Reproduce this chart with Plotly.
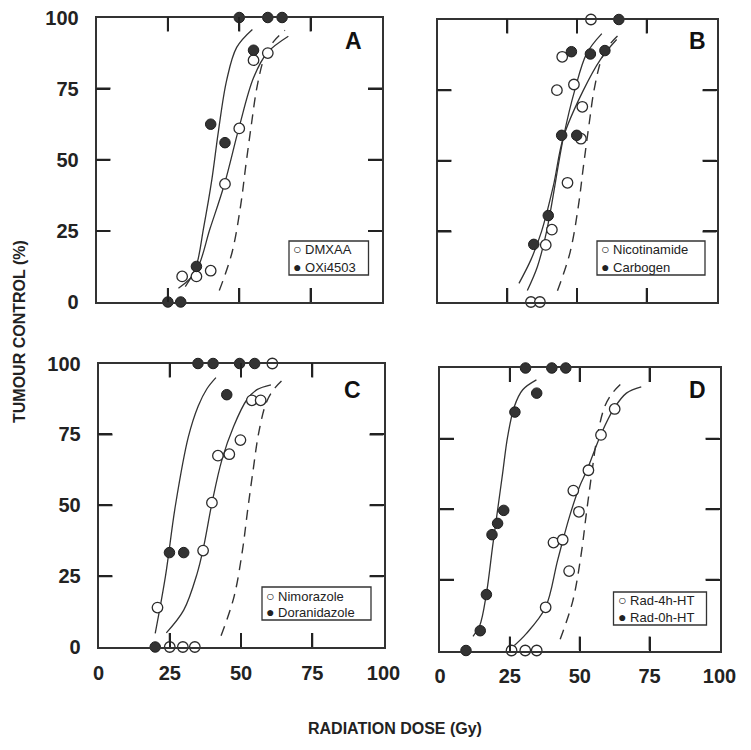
import plotly.graph_objects as go

# ---------------- data ----------------
# Panel A
dmxaa_dose = [30, 35, 40, 45, 50, 55, 60]
dmxaa_tc = [9, 9, 11, 41.5, 61, 85, 87.5]
oxi_dose = [25, 29.5, 35, 40, 45, 50, 55, 60, 65]
oxi_tc = [0, 0, 12.5, 62.5, 56, 100, 88.5, 100, 100]
dmxaa_fit_dose = [28.7, 34.8, 39.8, 44.8, 49.9, 55, 59.8, 67.2]
dmxaa_fit_tc = [4.8, 10.7, 25.9, 41.4, 61.2, 78.8, 87.6, 93.4]
oxi_fit_dose = [31.1, 34.8, 37.5, 40.4, 42.7, 45.6, 49.1, 54.6]
oxi_fit_tc = [5.4, 12.2, 26, 43, 60, 78, 89.5, 95.8]

# Panel B
nico_dose = [33.5, 36.7, 38.8, 41, 42.8, 44.7, 46.6, 48.9, 51.4, 51.9, 55]
nico_tc = [0, 0, 20.2, 25.6, 75, 86.8, 42.2, 77, 57.8, 69.1, 100]
carb_dose = [34.5, 39.7, 44.5, 48, 49.9, 54.8, 60, 65]
carb_tc = [20.4, 30.6, 59, 88.6, 59, 87.8, 89, 100]
nico_fit_dose = [29.2, 33.5, 37.3, 41.5, 45.2, 52.3, 58.5, 64.2]
nico_fit_tc = [6.6, 15, 25, 41, 58.6, 75, 86, 92.9]
carb_fit_dose = [32.2, 35.8, 39.1, 45.2, 49.2, 53.5, 58.9]
carb_fit_tc = [4.1, 12.5, 25, 58.6, 75, 88, 95]

# Panel C
nimo_dose = [20.7, 25, 29.6, 33.8, 36.7, 39.8, 41.9, 45.9, 49.8, 53.8, 56.9, 61]
nimo_tc = [13.9, 0, 0, 0, 34, 50.9, 67.5, 68, 73, 87, 87, 100]
dora_dose = [19.9, 24.9, 29.9, 34.9, 40.2, 45, 49.5, 54.8]
dora_tc = [0, 33.3, 33.3, 100, 100, 89, 100, 100]
nimo_fit_dose = [23.8, 29.9, 34.6, 36.9, 39.8, 43.3, 47.4, 52.1, 55.6, 60.5]
nimo_fit_tc = [5, 13, 25.9, 35.4, 50.7, 66, 77.8, 87.3, 90.8, 92.5]
dora_fit_dose = [19.9, 23.5, 27, 31.5, 35, 38, 41.2]
dora_fit_tc = [4.8, 25, 50, 74, 85, 91, 95]

# Panel D
rad4_dose = [25.6, 30.5, 34.6, 37.8, 40.6, 43.9, 46.2, 47.7, 49.7, 53.1, 57.6, 62.5]
rad4_tc = [0, 0, 0, 15.3, 38.2, 39.2, 28.1, 56.6, 49.1, 63.8, 76.3, 85.5]
rad0_dose = [9.3, 14.4, 16.6, 18.6, 20.6, 22.8, 26.8, 30.6, 34.6, 40, 45]
rad0_tc = [0, 7, 19.8, 41, 45, 49.6, 84.4, 100, 91.1, 100, 100]
rad4_fit_dose = [26.6, 30.8, 37.7, 42.1, 46.3, 49.9, 52.6, 57.5, 62.2, 66.7, 72]
rad4_fit_tc = [1.8, 5.9, 15.1, 32, 47.3, 58, 63.9, 76.3, 85.6, 91.1, 93.3]
rad0_fit_dose = [11.8, 14.2, 16.6, 18.8, 20.6, 22.4, 24.2, 26.6, 29.6, 34.5]
rad0_fit_tc = [5, 8.8, 20.1, 36.7, 49.7, 62.7, 75.7, 86.4, 92.3, 95.8]

# Control (radiation alone) curve, dashed, same in every panel
ctrl_fit_dose = [43, 47.5, 50.5, 52.3, 54.2, 56.3, 59, 62, 66]
ctrl_fit_tc = [4, 17.5, 34, 48, 62, 76, 86.5, 91.5, 95.5]

tick_vals = [0, 25, 50, 75, 100]
tick_text = ["0", "25", "50", "75", "100"]

panels = [
    dict(letter="A", open_name="DMXAA", filled_name="OXi4503",
         od=dmxaa_dose, ot=dmxaa_tc, fd=oxi_dose, ft=oxi_tc,
         ofd=dmxaa_fit_dose, oft=dmxaa_fit_tc, ffd=oxi_fit_dose, fft=oxi_fit_tc),
    dict(letter="B", open_name="Nicotinamide", filled_name="Carbogen",
         od=nico_dose, ot=nico_tc, fd=carb_dose, ft=carb_tc,
         ofd=nico_fit_dose, oft=nico_fit_tc, ffd=carb_fit_dose, fft=carb_fit_tc),
    dict(letter="C", open_name="Nimorazole", filled_name="Doranidazole",
         od=nimo_dose, ot=nimo_tc, fd=dora_dose, ft=dora_tc,
         ofd=nimo_fit_dose, oft=nimo_fit_tc, ffd=dora_fit_dose, fft=dora_fit_tc),
    dict(letter="D", open_name="Rad-4h-HT", filled_name="Rad-0h-HT",
         od=rad4_dose, ot=rad4_tc, fd=rad0_dose, ft=rad0_tc,
         ofd=rad4_fit_dose, oft=rad4_fit_tc, ffd=rad0_fit_dose, fft=rad0_fit_tc),
]

# ---------------- layout geometry (screen pixels) ----------------
# the page body has an 8px margin, so the figure is 16px smaller than the window
OFF = 8
W, H = 751 - 2 * OFF, 750 - 2 * OFF
def px(x):
    return (x - OFF) / W
def py(y):
    return 1 - (y - OFF) / H

# panel boxes: left, right, top, bottom (screen pixels)
boxes = [
    (96.5, 382, 17.5, 302),
    (437.5, 716.5, 19.5, 302),
    (98.5, 383.5, 363.5, 647),
    (440, 719.5, 368, 650.5),
]
# legend boxes: left, right, top, bottom, line1 y, line2 y
leg_boxes = [
    (289, 368.5, 241, 275, 249.5, 266.5),
    (597, 705, 241, 275, 249.5, 266.5),
    (262, 371, 587, 620, 595.5, 611.5),
    (613.5, 706.5, 592, 625, 600, 616.5),
]
letter_pos = [(353, 41), (697, 41), (352, 389.5), (697, 389.5)]
TICK_LEN = 14

INK = "#2b2b2b"
LINE = "#333333"
FONT = "Liberation Sans, Arial, sans-serif"

fig = go.Figure()

for i, p in enumerate(panels):
    ax = "" if i == 0 else str(i + 1)
    xr, yr = "x" + ax, "y" + ax
    l, r, t, b = boxes[i]
    # inside tick marks on all four sides (tick length converted to axis units)
    lx_u = TICK_LEN / (r - l) * 100
    ly_u = TICK_LEN / (b - t) * 100
    tx, ty = [], []
    for v in tick_vals[1:-1]:
        tx += [v, v, None, v, v, None, 0, lx_u, None, 100 - lx_u, 100, None]
        ty += [0, ly_u, None, 100 - ly_u, 100, None, v, v, None, v, v, None]
    fig.add_trace(go.Scatter(x=tx, y=ty, mode="lines", line=dict(color="#222222", width=2),
                             xaxis=xr, yaxis=yr, showlegend=False, hoverinfo="skip"))
    fig.add_trace(go.Scatter(x=ctrl_fit_dose, y=ctrl_fit_tc, mode="lines",
                             line=dict(color=LINE, width=1.4, dash="10px,7px", shape="spline"),
                             xaxis=xr, yaxis=yr, showlegend=False, hoverinfo="skip"))
    fig.add_trace(go.Scatter(x=p["ofd"], y=p["oft"], mode="lines",
                             line=dict(color=LINE, width=1.3, shape="spline", smoothing=1.0),
                             xaxis=xr, yaxis=yr, showlegend=False, hoverinfo="skip"))
    fig.add_trace(go.Scatter(x=p["ffd"], y=p["fft"], mode="lines",
                             line=dict(color=LINE, width=1.3, shape="spline", smoothing=1.0),
                             xaxis=xr, yaxis=yr, showlegend=False, hoverinfo="skip"))
    fig.add_trace(go.Scatter(x=p["od"], y=p["ot"], mode="markers", name=p["open_name"],
                             marker=dict(symbol="circle", size=10.5, color="white",
                                         line=dict(color=INK, width=1.3)),
                             cliponaxis=False, xaxis=xr, yaxis=yr, showlegend=False))
    fig.add_trace(go.Scatter(x=p["fd"], y=p["ft"], mode="markers", name=p["filled_name"],
                             marker=dict(symbol="circle", size=10.5, color="#333333",
                                         line=dict(color="#1e1e1e", width=1)),
                             cliponaxis=False, xaxis=xr, yaxis=yr, showlegend=False))

axis_common = dict(range=[0, 100], tickmode="array", tickvals=tick_vals, ticktext=tick_text,
                   ticks="inside", ticklen=TICK_LEN, tickwidth=1.8, tickcolor="#222222",
                   showline=True, linecolor=LINE, linewidth=1.6, mirror="ticks",
                   showgrid=False, zeroline=False, automargin=False,
                   ticklabeloverflow="allow",
                   tickfont=dict(family=FONT, size=20, color="#222222", weight="bold"))

layout_axes = {}
for i, (l, r, t, b) in enumerate(boxes):
    ax = "" if i == 0 else str(i + 1)
    xa = dict(axis_common)
    ya = dict(axis_common)
    xa["domain"] = [px(l), px(r)]
    ya["domain"] = [py(b), py(t)]
    xa["anchor"] = "y" + ax
    ya["anchor"] = "x" + ax
    xa["showticklabels"] = i >= 2
    ya["showticklabels"] = i in (0, 2)
    xa["ticklabelstandoff"] = 7
    ya["ticklabelstandoff"] = 12
    layout_axes["xaxis" + ax] = xa
    layout_axes["yaxis" + ax] = ya

shapes = []
annotations = []
for i, p in enumerate(panels):
    l, r, t, b, y1, y2 = leg_boxes[i]
    shapes.append(dict(type="rect", xref="paper", yref="paper",
                       x0=px(l), x1=px(r), y0=py(b), y1=py(t),
                       line=dict(color=LINE, width=1.3), fillcolor="white", layer="above"))
    for yy, sym, name in ((y1, "○", p["open_name"]), (y2, "●", p["filled_name"])):
        annotations.append(dict(xref="paper", yref="paper", x=px(l + 2), y=py(yy),
                                xanchor="left", yanchor="middle", showarrow=False,
                                text="<span style='font-size:14px'>" + sym + "</span> " + name,
                                font=dict(family=FONT, size=13, color="#222222")))
    lx, ly = letter_pos[i]
    annotations.append(dict(xref="paper", yref="paper", x=px(lx), y=py(ly),
                            xanchor="center", yanchor="middle", showarrow=False,
                            text=p["letter"],
                            font=dict(family=FONT, size=23, color="#111111", weight="bold")))

annotations.append(dict(xref="paper", yref="paper", x=px(19), y=py(332),
                        xanchor="center", yanchor="middle", showarrow=False,
                        text="TUMOUR CONTROL (%)", textangle=-90,
                        font=dict(family=FONT, size=16, color="#222222", weight="bold")))
annotations.append(dict(xref="paper", yref="paper", x=px(395), y=py(728),
                        xanchor="center", yanchor="middle", showarrow=False,
                        text="RADIATION DOSE (Gy)",
                        font=dict(family=FONT, size=16, color="#222222", weight="bold")))

fig.update_layout(template="none", width=W, height=H, margin=dict(l=0, r=0, t=0, b=0),
                  paper_bgcolor="white", plot_bgcolor="white",
                  showlegend=False, shapes=shapes, annotations=annotations,
                  **layout_axes)

fig.write_html("out.html")
